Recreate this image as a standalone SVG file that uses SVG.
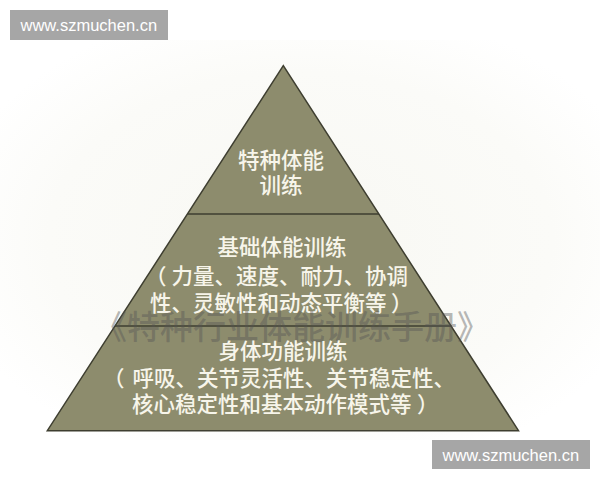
<svg xmlns="http://www.w3.org/2000/svg" width="600" height="480" viewBox="0 0 600 480">
<defs>
<radialGradient id="bg" cx="0.5" cy="0.5" r="0.6">
<stop offset="0" stop-color="#f8f8f3"/>
<stop offset="0.7" stop-color="#fbfbf8"/>
<stop offset="1" stop-color="#ffffff"/>
</radialGradient>
</defs>
<style>
.lbl{font-family:"Noto Sans CJK SC","Noto Sans",sans-serif;font-size:21.5px;font-weight:500;fill:#f7f5ea;text-anchor:middle}
.lbs{font-family:"Noto Sans CJK SC","Noto Sans",sans-serif;font-size:21.5px;font-weight:500;fill:#f7f5ea;text-anchor:start}
.wm{font-family:"Liberation Sans",Arial,sans-serif;font-size:16.5px;fill:#ffffff}
.wbox{fill:#a6a6a6}
.div{stroke:#3e3e30;stroke-width:1.6;fill:none}
</style>
<rect x="0" y="0" width="600" height="480" fill="#ffffff"/>
<rect x="0" y="40" width="600" height="400" fill="url(#bg)"/>
<g id="pyramid">
<polygon points="283.3,65.7 47.3,430.7 518.5,430.7" fill="#8d8c6d" stroke="#3e3e30" stroke-width="1.5" stroke-linejoin="miter"/>
</g>
<g id="connectors">
<line class="div" x1="187.5" y1="214" x2="379" y2="214"/>
<line class="div" x1="115" y1="326" x2="451.6" y2="326"/>
</g>
<g id="node-top">
<text class="lbl" x="281" y="168">特种体能</text>
<text class="lbl" x="281" y="193">训练</text>
</g>
<g id="node-middle">
<text class="lbl" x="282" y="255" font-size="22">基础体能训练</text>
<text class="lbs" y="284"><tspan x="145">（</tspan><tspan x="171.5">力量、速度、耐力、协调</tspan></text>
<text class="lbs" y="311"><tspan x="150">性、灵敏性和动态平衡等</tspan><tspan x="391">）</tspan></text>
</g>
<g id="watermark-title">
<text x="292" y="339" font-family="Noto Sans CJK SC,sans-serif" font-size="33" font-weight="500" fill="#555" fill-opacity="0.42" text-anchor="middle">《特种行业体能训练手册》</text>
</g>
<g id="node-bottom">
<text class="lbl" x="283" y="359">身体功能训练</text>
<text class="lbs" y="386"><tspan x="103">（</tspan><tspan x="132.5">呼吸、关节灵活性、关节稳定性、</tspan></text>
<text class="lbs" y="412"><tspan x="132">核心稳定性和基本动作模式等</tspan><tspan x="417">）</tspan></text>
</g>
<g id="watermark-tl">
<rect class="wbox" x="10" y="10" width="158" height="30"/>
<text class="wm" x="20.5" y="31">www.szmuchen.cn</text>
</g>
<g id="watermark-br">
<rect class="wbox" x="432" y="440" width="158" height="29"/>
<text class="wm" x="442.5" y="461">www.szmuchen.cn</text>
</g>
</svg>
